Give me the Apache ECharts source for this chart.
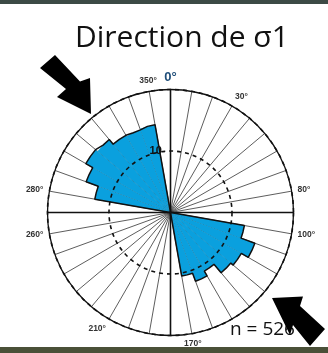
<!DOCTYPE html>
<html>
<head>
<meta charset="utf-8">
<script src="https://cdn.jsdelivr.net/npm/echarts@6/dist/echarts.min.js"></script>
<style>
html,body{margin:0;padding:0;background:#fff;}
#chart{width:328px;height:353px;}
</style>
</head>
<body>
<div id="chart"></div>
<script>
// ---- data (10° bins, starting at 0°, clockwise from north) ----
const binStarts = [0,10,20,30,40,50,60,70,80,90,100,110,120,130,140,150,160,170,
                   180,190,200,210,220,230,240,250,260,270,280,290,300,310,320,330,340,350];
const binValues = [0,0,0,0,0,0,0,0,0,0,12.2,14.6,13.3,12.8,11.0,11.9,10.5,0,
                   0,0,0,0,0,0,0,0,0,0,12.5,14.6,15.9,15.5,14.5,14.3,14.5,0];
const labelAngles = [0,30,80,100,170,210,260,280,350];
const radiusLabels = [10];
const radiusMax = 20;
const binWidth = 10;
const titleText = 'Direction de σ1';
const countText = 'n = 526';

const chart = echarts.init(document.getElementById('chart'), null, {renderer:'canvas'});

// outline runs built from bin values
const runs = [];
let cur = null;
binValues.forEach((v, i) => {
  if (v > 0) {
    if (!cur) { cur = [[0, binStarts[i]]]; runs.push(cur); }
    cur.push([v, binStarts[i]]);
    cur.push([v, binStarts[i] + binWidth / 2]);
    cur.push([v, binStarts[i] + binWidth]);
  } else if (cur) {
    cur.push([0, binStarts[i]]);
    cur = null;
  }
});
const outlineSeries = runs.map(pts => ({
  type: 'line', coordinateSystem: 'polar', polarIndex: 1,
  data: pts, symbol: 'none', smooth: false, z: 5, silent: true,
  lineStyle: {color: '#111', width: 1.5}
}));

const center = [170.5, 212.5];
const R = 123;

chart.setOption({
  animation: false,
  backgroundColor: '#ffffff',
  title: {
    text: titleText, left: 70, top: 18,
    textStyle: {fontFamily: 'Open Sans', fontSize: 30, fontWeight: 'normal', color: '#111'}
  },
  polar: [
    {center: center, radius: R},
    {center: center, radius: R},
    {center: center, radius: R}
  ],
  angleAxis: [
    {polarIndex: 0, type: 'category', data: binStarts.map(String), startAngle: 90, clockwise: true,
     boundaryGap: true, axisLine: {show: false}, axisTick: {show: false}, axisLabel: {show: false},
     splitLine: {show: false}},
    {polarIndex: 1, type: 'value', min: 0, max: 360, interval: binWidth, startAngle: 90, clockwise: true,
     axisLine: {show: true, lineStyle: {color: '#111', width: 1.3}},
     axisTick: {show: false},
     splitLine: {show: true, lineStyle: {color: '#333', width: 0.8}},
     axisLabel: {
       show: true, margin: 6,
       fontFamily: 'Liberation Sans', fontSize: 8.5, fontWeight: 'bold', color: '#333',
       formatter: v => {
         if (v === 360 || labelAngles.indexOf(v) < 0) return '';
         if (v === 0) return '{z|0°}';
         return v + '°';
       },
       rich: {z: {fontFamily: 'Liberation Sans', fontSize: 13, fontWeight: 'bold', color: '#1f4e79'}}
     }},
    {polarIndex: 2, type: 'value', min: 0, max: 360, interval: 90, startAngle: 90, clockwise: true,
     axisLine: {show: false}, axisTick: {show: false}, axisLabel: {show: false},
     splitLine: {show: true, lineStyle: {color: '#111', width: 1.6}}}
  ],
  radiusAxis: [
    {polarIndex: 0, min: 0, max: radiusMax, show: false},
    {polarIndex: 1, min: 0, max: radiusMax, interval: 10, z: 10,
     axisLine: {show: false}, axisTick: {show: false},
     splitLine: {show: true, lineStyle: {color: '#111', width: 1.6, type: [4, 4]}},
     axisLabel: {
       show: true, margin: 5, fontFamily: 'Liberation Sans', fontSize: 11, fontWeight: 'bold', color: '#111',
       formatter: v => radiusLabels.indexOf(v) >= 0 ? v + '-' : ''
     }},
    {polarIndex: 2, min: 0, max: radiusMax, show: false}
  ],
  series: [
    {type: 'bar', coordinateSystem: 'polar', polarIndex: 0, data: binValues,
     barCategoryGap: '0%', barGap: '0%', z: 2, silent: true,
     itemStyle: {color: '#0aa0de', borderWidth: 0}}
  ].concat(outlineSeries),
  graphic: [
    {type: 'rect', shape: {x: 0, y: 0, width: 328, height: 4}, style: {fill: '#3c4a45'}, z: 100},
    {type: 'rect', shape: {x: 0, y: 347, width: 328, height: 6}, style: {fill: '#4a5038'}, z: 100},
    {type: 'text', x: 230, y: 320, z: 50,
     style: {text: countText, fontFamily: 'Open Sans', fontSize: 19, fill: '#111'}},
    {type: 'polygon', z: 60,
     shape: {points: [[55,55],[80,81.5],[90,78],[91,114],[57,97],[66,89],[40,68]]},
     style: {fill: '#000'}},
    {type: 'polygon', z: 60,
     shape: {points: [[272,298],[303,296.5],[300,306],[325,329],[310,346],[293,325],[290,335]]},
     style: {fill: '#000'}}
  ]
});
</script>
</body>
</html>
